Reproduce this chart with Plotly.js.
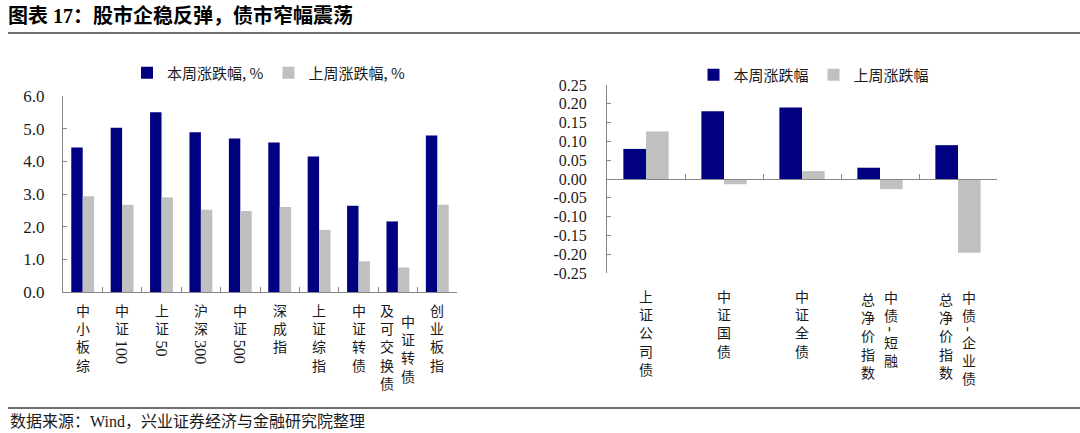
<!DOCTYPE html>
<html><head><meta charset="utf-8">
<script src="https://cdn.plot.ly/plotly-3.0.1.min.js"></script>
<style>html,body{margin:0;padding:0;background:#fff}#chart{width:1080px;height:433px}</style>
</head><body><div id="chart"></div>
<script>
// ---------- data ----------
const leftCategories = ['中小板综','中证100','上证50','沪深300','中证500','深成指','上证综指','中证转债','中证转债及可交换债','创业板指'];
const leftThisWeek = [4.42,5.03,5.50,4.89,4.70,4.58,4.15,2.64,2.16,4.79];
const leftLastWeek = [2.93,2.67,2.90,2.52,2.48,2.60,1.90,0.94,0.75,2.67];
const leftTickLabels = [['中小板综'],['中证100'],['上证50'],['沪深300'],['中证500'],['深成指'],['上证综指'],['中证转债'],['中证转债','及可交换债'],['创业板指']];
const leftSeriesNames = ['本周涨跌幅, %','上周涨跌幅, %'];

const rightCategories = ['上证公司债','中证国债','中证全债','中债-短融总净价指数','中债-企业债总净价指数'];
const rightThisWeek = [0.08,0.18,0.19,0.03,0.09];
const rightLastWeek = [0.126,-0.014,0.021,-0.027,-0.196];
const rightTickLabels = [['上证公司债'],['中证国债'],['中证全债'],['中债-短融','总净价指数'],['中债-企业债','总净价指数']];
const rightSeriesNames = ['本周涨跌幅','上周涨跌幅'];

const leftYTicks = [0,1,2,3,4,5,6];
const leftYTickText = ['0.0','1.0','2.0','3.0','4.0','5.0','6.0'];
const rightYTicks = [-0.25,-0.20,-0.15,-0.10,-0.05,0,0.05,0.10,0.15,0.20,0.25];
const rightYTickText = ['-0.25','-0.20','-0.15','-0.10','-0.05','0.00','0.05','0.10','0.15','0.20','0.25'];

const titleText = '图表 17：股市企稳反弹，债市窄幅震荡';
const sourceText = '数据来源：Wind，兴业证券经济与金融研究院整理';

// ---------- style ----------
const W = 1080, H = 433;
const NAVY = '#000080', GRAY = '#C0C0C0', AXIS = '#868686', TXT = '#1a1a1a';
const SERIF = 'Liberation Serif, Noto Sans CJK SC, serif';
const CJK = 'Noto Sans CJK SC, sans-serif';
const px = v => v / W, py = v => 1 - v / H;
const Lg = {x0:63, x1:457, y0:96, y1:292};
const Rg = {x0:607, x1:997, y0:85, y1:273};
const LABEL_SIZE = 14, STEP = LABEL_SIZE * 1.3;

const traces = [
  {type:'bar', name:leftSeriesNames[0], x:leftCategories, y:leftThisWeek, marker:{color:NAVY}, xaxis:'x', yaxis:'y', legend:'legend'},
  {type:'bar', name:leftSeriesNames[1], x:leftCategories, y:leftLastWeek, marker:{color:GRAY}, xaxis:'x', yaxis:'y', legend:'legend'},
  {type:'bar', name:rightSeriesNames[0], x:rightCategories, y:rightThisWeek, marker:{color:NAVY}, xaxis:'x2', yaxis:'y2', legend:'legend2'},
  {type:'bar', name:rightSeriesNames[1], x:rightCategories, y:rightLastWeek, marker:{color:GRAY}, xaxis:'x2', yaxis:'y2', legend:'legend2'}
];

// ---------- vertical category labels ----------
const annotations = [];
const CJK_RE = /[\u2E80-\u9FFF\uFF00-\uFFEF]/;
function verticalText(text, xref, cat, xshift, topPx){
  let cursor = topPx;
  const runs = text.match(/[\u2E80-\u9FFF\uFF00-\uFFEF]+|[^\u2E80-\u9FFF\uFF00-\uFFEF]+/g);
  runs.forEach(r => {
    if (CJK_RE.test(r)) {
      const chars = Array.from(r);
      const h = chars.length * STEP;
      annotations.push({xref, yref:'paper', x:cat, y:py(cursor + h/2), text:chars.join('<br>'), showarrow:false,
        xshift, xanchor:'center', yanchor:'middle', borderpad:0,
        font:{family:CJK, size:LABEL_SIZE, color:TXT}});
      cursor += h + 1;
    } else {
      const len = r === '-' ? 4 : r.length * 8.5;
      annotations.push({xref, yref:'paper', x:cat, y:py(cursor + len/2 + 1), text:r, showarrow:false, textangle:90,
        xshift, xanchor:'center', yanchor:'middle', borderpad:0,
        font:{family:SERIF, size:16, color:TXT}});
      cursor += len + 3;
    }
  });
}
leftCategories.forEach((c, i) => {
  const lines = leftTickLabels[i];
  if (lines.length === 1) verticalText(lines[0], 'x', c, 0, 301);
  else { verticalText(lines[0], 'x', c, 10, 312); verticalText(lines[1], 'x', c, -11, 301); }
});
rightCategories.forEach((c, i) => {
  const lines = rightTickLabels[i];
  if (lines.length === 1) verticalText(lines[0], 'x2', c, 0, 287);
  else { verticalText(lines[0], 'x2', c, 11, 288); verticalText(lines[1], 'x2', c, -12, 290); }
});
annotations.push({xref:'paper', yref:'paper', x:px(8), y:py(421), xanchor:'left', yanchor:'middle', showarrow:false,
  text:sourceText, font:{family:SERIF, size:16, color:TXT}});

const axisBase = {showgrid:false, zeroline:false, showline:true, linecolor:AXIS, linewidth:1, ticks:'inside', ticklen:4, tickcolor:AXIS, tickwidth:1, fixedrange:true};
const yDomL = [py(Lg.y1), py(Lg.y0)];
const yDomR = [py(Rg.y1), py(Rg.y0)];

const layout = {
  width:W, height:H, margin:{l:0,r:0,t:0,b:0}, paper_bgcolor:'#fff', plot_bgcolor:'rgba(0,0,0,0)',
  barmode:'group', bargap:0.42, bargroupgap:0,
  title:{text:titleText, x:px(8), xanchor:'left', xref:'paper', y:py(16), yanchor:'middle', yref:'container',
    font:{family:SERIF, size:20, color:'#000', weight:700}},
  xaxis:Object.assign({}, axisBase, {domain:[px(Lg.x0), px(Lg.x1)], anchor:'y', type:'category', tickson:'boundaries', showticklabels:false, ticklen:5}),
  yaxis:Object.assign({}, axisBase, {domain:yDomL, anchor:'x', range:[0,6], tickmode:'array', tickvals:leftYTicks, ticktext:leftYTickText,
    tickfont:{family:SERIF, size:17, color:TXT}, ticklabelstandoff:14}),
  xaxis2:Object.assign({}, axisBase, {domain:[px(Rg.x0), px(Rg.x1)], anchor:'free', position:yDomR[0] + 0.5*(yDomR[1]-yDomR[0]),
    type:'category', tickson:'boundaries', showticklabels:false, ticklen:5}),
  yaxis2:Object.assign({}, axisBase, {domain:yDomR, anchor:'x2', range:[-0.25,0.25], tickmode:'array', tickvals:rightYTicks, ticktext:rightYTickText,
    tickfont:{family:SERIF, size:16, color:TXT}, ticklabelstandoff:16}),
  legend:{orientation:'h', x:px(269), xanchor:'center', y:py(73), yanchor:'middle', font:{family:CJK, size:15, color:TXT}, itemwidth:30, tracegroupgap:0, bgcolor:'rgba(0,0,0,0)'},
  legend2:{orientation:'h', x:px(814), xanchor:'center', y:py(75), yanchor:'middle', font:{family:CJK, size:15, color:TXT}, itemwidth:30, tracegroupgap:0, bgcolor:'rgba(0,0,0,0)'},
  annotations,
  shapes:[
    {type:'line', xref:'paper', yref:'paper', x0:px(8), x1:1, y0:py(33), y1:py(33), line:{color:'#404040', width:1.5}},
    {type:'line', xref:'paper', yref:'paper', x0:px(8), x1:1, y0:py(408), y1:py(408), line:{color:'#404040', width:1.5}}
  ],
  showlegend:true
};
Plotly.newPlot('chart', traces, layout, {displayModeBar:false, staticPlot:true});
</script>
</body></html>
